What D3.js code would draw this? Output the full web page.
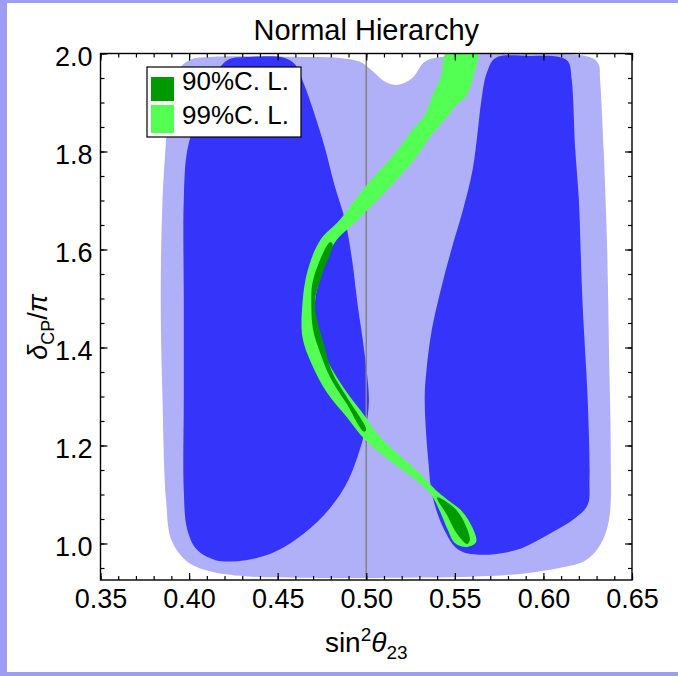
<!DOCTYPE html>
<html>
<head>
<meta charset="utf-8">
<script src="https://cdn.jsdelivr.net/npm/d3@7/dist/d3.min.js"></script>
<style>
  html, body { margin: 0; padding: 0; background: #fff; }
  svg { display: block; }
  text { font-family: "Liberation Sans", Arial, Helvetica, sans-serif; fill: #000; }
</style>
</head>
<body>
<svg id="chart" width="678" height="676"></svg>
<script>
// Axis ticks
const xTicks = [0.35, 0.40, 0.45, 0.50, 0.55, 0.60, 0.65];
const yTicks = [1.0, 1.2, 1.4, 1.6, 1.8, 2.0];
const xMinor = d3.range(35, 66, 1).map(v => v / 100);
const yMinor = d3.range(95, 201, 5).map(v => v / 100);

// Wide allowed region (light lavender), [sin^2 theta23, deltaCP/pi]
const wideRegion = [
  [0.388, 1.885], [0.392, 1.956], [0.4005, 1.987], [0.412, 1.993], [0.463, 1.993],
  [0.485, 1.991], [0.4965, 1.983], [0.503, 1.966], [0.511, 1.942], [0.518, 1.936],
  [0.526, 1.950], [0.533, 1.983], [0.542, 1.993], [0.626, 1.993], [0.631, 1.979],
  [0.632, 1.946], [0.634, 1.803], [0.636, 1.599], [0.637, 1.395], [0.638, 1.191],
  [0.637, 1.048], [0.632, 0.997], [0.624, 0.966], [0.609, 0.950], [0.587, 0.938],
  [0.559, 0.932], [0.519, 0.930], [0.463, 0.930], [0.429, 0.934], [0.409, 0.946],
  [0.398, 0.966], [0.390, 1.007], [0.387, 1.089], [0.385, 1.293], [0.384, 1.497],
  [0.385, 1.701], [0.387, 1.824]
];

// Lower-octant allowed region (dark blue)
const leftBlob = [
  [0.422, 1.987], [0.434, 1.993], [0.454, 1.991], [0.460, 1.977], [0.465, 1.936],
  [0.471, 1.874], [0.477, 1.803], [0.482, 1.732], [0.488, 1.660], [0.492, 1.579],
  [0.495, 1.491], [0.499, 1.389], [0.5015, 1.293], [0.500, 1.242], [0.498, 1.211],
  [0.490, 1.130], [0.4795, 1.072], [0.465, 1.021], [0.4485, 0.983], [0.432, 0.966],
  [0.415, 0.966], [0.4045, 0.987], [0.399, 1.028], [0.397, 1.109], [0.397, 1.293],
  [0.397, 1.497], [0.397, 1.701], [0.399, 1.803], [0.405, 1.874], [0.413, 1.946]
];

// Higher-octant allowed region (dark blue)
const rightBlob = [
  [0.573, 1.991], [0.592, 1.995], [0.609, 1.993], [0.614, 1.983], [0.616, 1.946],
  [0.618, 1.803], [0.620, 1.701], [0.622, 1.497], [0.625, 1.293], [0.626, 1.130],
  [0.625, 1.079], [0.618, 1.052], [0.604, 1.021], [0.585, 0.987], [0.564, 0.977],
  [0.552, 0.987], [0.544, 1.028], [0.5375, 1.095], [0.535, 1.170], [0.533, 1.293],
  [0.534, 1.354], [0.537, 1.436], [0.542, 1.517], [0.548, 1.599], [0.5546, 1.681],
  [0.560, 1.762], [0.563, 1.844], [0.565, 1.905], [0.568, 1.960]
];

// 99% C.L. band
const band99 = [
  [0.546, 2.007], [0.542, 1.952], [0.537, 1.911], [0.533, 1.874], [0.526, 1.844],
  [0.519, 1.809], [0.513, 1.783], [0.499, 1.726], [0.485, 1.660], [0.474, 1.619],
  [0.467, 1.558], [0.464, 1.491], [0.464, 1.421], [0.469, 1.368], [0.478, 1.307],
  [0.489, 1.258], [0.498, 1.217], [0.5106, 1.177], [0.522, 1.146], [0.5315, 1.119],
  [0.5375, 1.095], [0.542, 1.062], [0.546, 1.028], [0.550, 1.001], [0.557, 0.993],
  [0.562, 1.003],
  [0.560, 1.032], [0.554, 1.066], [0.546, 1.089], [0.5405, 1.105], [0.530, 1.144],
  [0.522, 1.170], [0.508, 1.217], [0.498, 1.266], [0.487, 1.319], [0.478, 1.374],
  [0.473, 1.421], [0.471, 1.491], [0.475, 1.552], [0.482, 1.613], [0.495, 1.660],
  [0.509, 1.711], [0.527, 1.783], [0.536, 1.830], [0.544, 1.864], [0.552, 1.899],
  [0.556, 1.911], [0.561, 1.960], [0.5625, 2.007]
];

// 90% C.L. islands
const band90Upper = [
  [0.4795, 1.615], [0.470, 1.538], [0.469, 1.491], [0.470, 1.436], [0.474, 1.389],
  [0.4795, 1.340], [0.4886, 1.287], [0.4987, 1.228],
  [0.500, 1.232], [0.489, 1.299], [0.481, 1.348], [0.477, 1.395], [0.471, 1.491],
  [0.475, 1.548], [0.481, 1.611]
];
const band90Lower = [
  [0.540, 1.093], [0.5456, 1.058], [0.551, 1.021], [0.557, 0.999],
  [0.5585, 1.007], [0.556, 1.038], [0.551, 1.068], [0.5416, 1.093]
];

const legendItems = [
  { label: "90%C. L.", color: "#009a00" },
  { label: "99%C. L.", color: "#52ff52" }
];

const svg = d3.select("#chart");
const W = 678, H = 676;

// page backdrop
svg.append("rect").attr("width", W).attr("height", H).attr("fill", "#9d9df3");
svg.append("rect").attr("x", 7).attr("y", 3).attr("width", W - 7).attr("height", 669).attr("fill", "#fff");

const plot = { left: 100.5, right: 632, top: 53.5, bottom: 580 };
const x = d3.scaleLinear().domain([0.35, 0.65]).range([plot.left, plot.right]);
const y = d3.scaleLinear().domain([0.9255, 2.0]).range([plot.bottom, plot.top]);

svg.append("clipPath").attr("id", "plotClip")
  .append("rect").attr("x", plot.left).attr("y", plot.top)
  .attr("width", plot.right - plot.left).attr("height", plot.bottom - plot.top);

const area = svg.append("g").attr("clip-path", "url(#plotClip)");
const shape = d3.line().x(d => x(d[0])).y(d => y(d[1])).curve(d3.curveCatmullRomClosed.alpha(0.5));

area.append("path").attr("d", shape(wideRegion)).attr("fill", "#b0b0f8");
area.append("path").attr("d", shape(leftBlob)).attr("fill", "#3434fb");
area.append("path").attr("d", shape(rightBlob)).attr("fill", "#3434fb");

// maximal mixing line
area.append("line")
  .attr("x1", x(0.5)).attr("x2", x(0.5))
  .attr("y1", plot.top).attr("y2", plot.bottom)
  .attr("stroke", "#858585").attr("stroke-width", 1.6);

area.append("path").attr("d", shape(band99)).attr("fill", legendItems[1].color);
area.append("path").attr("d", shape(band90Upper)).attr("fill", legendItems[0].color);
area.append("path").attr("d", shape(band90Lower)).attr("fill", legendItems[0].color);

// axes: ticks point inward on all four sides
function styleAxis(g) {
  g.select(".domain").remove();
  g.selectAll(".tick line").attr("stroke", "#000").attr("stroke-width", 1.2);
  g.selectAll("text").style("font-size", "27px").attr("fill", "#000");
}
const fmt = d3.format(".2f");
svg.append("g").attr("transform", `translate(0,${plot.bottom})`)
  .call(d3.axisBottom(x).tickValues(xMinor).tickSize(-4).tickFormat(""))
  .call(styleAxis);
svg.append("g").attr("transform", `translate(0,${plot.bottom})`)
  .call(d3.axisBottom(x).tickValues(xTicks).tickSize(-7).tickPadding(9).tickFormat(fmt))
  .call(styleAxis);
svg.append("g").attr("transform", `translate(0,${plot.top})`)
  .call(d3.axisTop(x).tickValues(xMinor).tickSize(-4).tickFormat(""))
  .call(styleAxis);
svg.append("g").attr("transform", `translate(0,${plot.top})`)
  .call(d3.axisTop(x).tickValues(xTicks).tickSize(-7).tickFormat(""))
  .call(styleAxis);

svg.append("g").attr("transform", `translate(${plot.left},0)`)
  .call(d3.axisLeft(y).tickValues(yMinor).tickSize(-4).tickFormat(""))
  .call(styleAxis);
svg.append("g").attr("transform", `translate(${plot.left},0)`)
  .call(d3.axisLeft(y).tickValues(yTicks).tickSize(-7).tickPadding(8).tickFormat(d3.format(".1f")))
  .call(styleAxis)
  .call(g => g.selectAll("text").attr("dy", "0.45em"));
svg.append("g").attr("transform", `translate(${plot.right},0)`)
  .call(d3.axisRight(y).tickValues(yMinor).tickSize(-4).tickFormat(""))
  .call(styleAxis);
svg.append("g").attr("transform", `translate(${plot.right},0)`)
  .call(d3.axisRight(y).tickValues(yTicks).tickSize(-7).tickFormat(""))
  .call(styleAxis);

// frame
svg.append("rect")
  .attr("x", plot.left).attr("y", plot.top)
  .attr("width", plot.right - plot.left).attr("height", plot.bottom - plot.top)
  .attr("fill", "none").attr("stroke", "#000").attr("stroke-width", 1.4);

// title
svg.append("text").attr("x", (plot.left + plot.right) / 2).attr("y", 40)
  .attr("text-anchor", "middle").style("font-size", "29px").text("Normal Hierarchy");

// x label: sin^2 theta_23
const xl = svg.append("text").attr("x", (plot.left + plot.right) / 2).attr("y", 652)
  .attr("text-anchor", "middle").style("font-size", "28px");
xl.append("tspan").text("sin");
xl.append("tspan").attr("dy", -11).style("font-size", "19px").text("2");
xl.append("tspan").attr("dy", 11).style("font-style", "italic").text("θ");
xl.append("tspan").attr("dy", 7).style("font-size", "19px").text("23");

// y label: delta_CP / pi
const yl = svg.append("text").attr("transform", `translate(47,327) rotate(-90)`)
  .attr("text-anchor", "middle").style("font-size", "27px");
yl.append("tspan").style("font-style", "italic").text("δ");
yl.append("tspan").attr("dy", 7).style("font-size", "18px").text("CP");
yl.append("tspan").attr("dy", -7).text("/");
yl.append("tspan").style("font-style", "italic").text("π");

// legend
const lg = svg.append("g");
lg.append("rect").attr("x", 147).attr("y", 67).attr("width", 154).attr("height", 70)
  .attr("fill", "#fff").attr("stroke", "#000").attr("stroke-width", 1.2);
const rows = [{ top: 77, h: 24, base: 90 }, { top: 105, h: 28, base: 124 }];
legendItems.forEach((d, i) => {
  lg.append("rect").attr("x", 151).attr("y", rows[i].top).attr("width", 23).attr("height", rows[i].h)
    .attr("fill", d.color);
  lg.append("text").attr("x", 182).attr("y", rows[i].base).style("font-size", "26px").text(d.label);
});
</script>
</body>
</html>
